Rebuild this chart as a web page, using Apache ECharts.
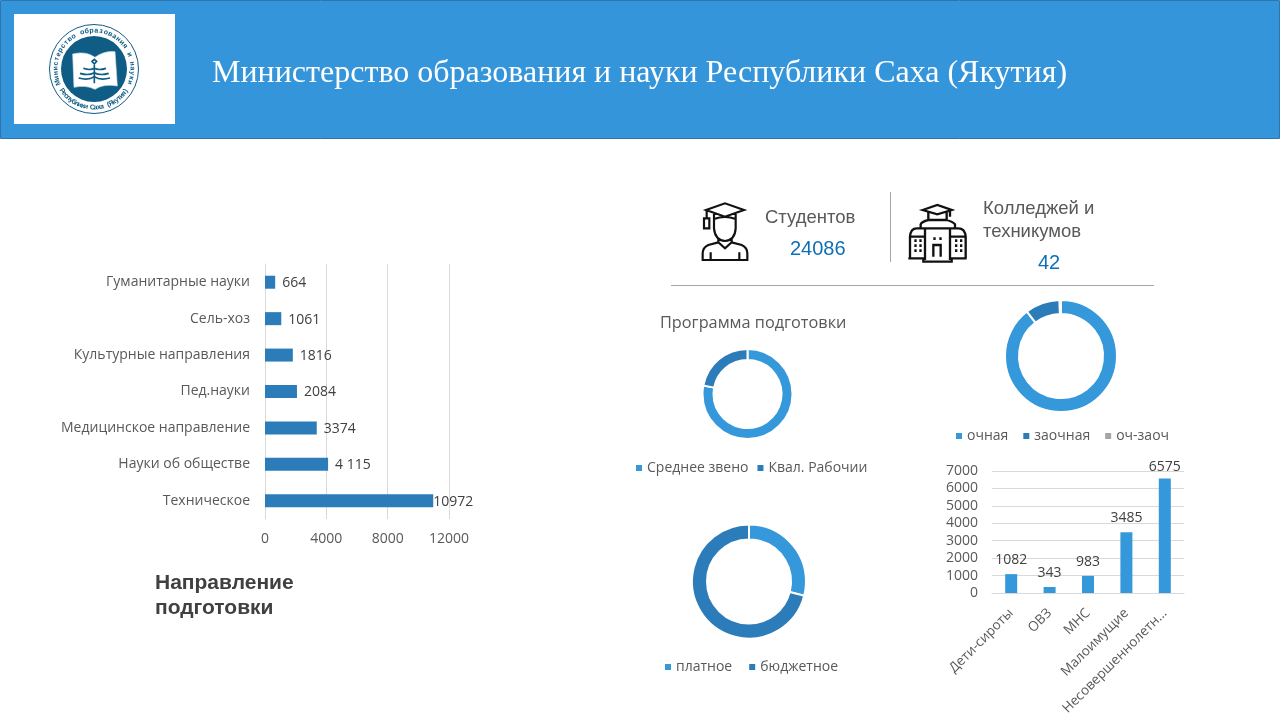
<!DOCTYPE html>
<html>
<head>
<meta charset="utf-8">
<style>html,body{margin:0;padding:0;background:#fff}#c{width:1280px;height:720px}</style>
<script src="https://cdn.jsdelivr.net/npm/echarts@6/dist/echarts.min.js"></script>
</head>
<body>
<div id="c"></div>
<script>
const headerTitle = 'Министерство образования и науки Республики Саха (Якутия)';
const directionCategories = ['Гуманитарные науки','Сель-хоз','Культурные направления','Пед.науки','Медицинское направление','Науки об обществе','Техническое'];
const directionValues = [664,1061,1816,2084,3374,4115,10972];
const directionLabels = ['664','1061','1816','2084','3374','4 115','10972'];
const programNames = ['Среднее звено','Квал. Рабочии'];
const programValues = [78,22];
const formNames = ['очная','заочная','оч-заоч'];
const formValues = [89.6,10,0.4];
const payNames = ['платное','бюджетное'];
const payValues = [29,71];
const socialCategories = ['Дети-сироты','ОВЗ','МНС','Малоимущие','Несовершеннолетн…'];
const socialValues = [1082,343,983,3485,6575];

const LIGHT='#3498db', DARK='#2b7cb9', GREY='#a5a5a5', TXT='#595959', FONT='"Open Sans"';
const chart = echarts.init(document.getElementById('c'), null, {renderer:'canvas'});

function donut(names, values, colors, center, r0, r1){
  return {type:'pie', center:center, radius:[r0,r1], startAngle:90, clockwise:true, silent:true, animation:false,
    label:{show:false}, labelLine:{show:false},
    itemStyle:{borderColor:'#fff',borderWidth:2},
    data:names.map((n,i)=>({name:n,value:values[i],itemStyle:{color:colors[i]}}))};
}
function legend(names,left,top,gap){
  return {data:names,left:left,top:top,itemWidth:8,itemHeight:8,itemGap:gap,icon:'rect',orient:'horizontal',padding:0,
    selectedMode:false,textStyle:{fontFamily:FONT,fontSize:14,color:TXT,padding:[0,0,0,-1]}};
}

/* Decorative shapes */
const g = [];
g.push({type:'rect',shape:{x:0.5,y:0.5,width:1279,height:138},style:{fill:'#3595db',stroke:'#2e75b0',lineWidth:1},silent:true});
g.push({type:'rect',shape:{x:14,y:14,width:161,height:110},style:{fill:'#fff'},silent:true});
g.push({type:'text',x:212,y:74,style:{text:headerTitle,fill:'#fff',font:'32px "Liberation Serif"',verticalAlign:'middle'},silent:true});
// logo
const NAVY='#0f5c85', LC=[94,69];
g.push({type:'circle',shape:{cx:LC[0],cy:LC[1],r:44.5},style:{fill:'#fff',stroke:NAVY,lineWidth:1},silent:true});
g.push({type:'circle',shape:{cx:LC[0],cy:LC[1],r:33},style:{fill:NAVY},silent:true});
function arcText(str,r,startDeg,endDeg,bottom){
  const chars=[...str], n=chars.length;
  chars.forEach((ch,i)=>{
    const deg=startDeg+(endDeg-startDeg)*(i+0.5)/n, a=deg*Math.PI/180;
    const x=LC[0]+r*Math.sin(a), y=LC[1]-r*Math.cos(a);
    g.push({type:'text',x:x,y:y,rotation:bottom?-(deg-180)*Math.PI/180:-a,
      style:{text:ch,fill:NAVY,font:'bold 7px "Liberation Sans"',align:'center',verticalAlign:'middle'},silent:true});
  });
}
arcText('Министерство образования и науки',38.5,-114,114,false);
arcText('Республики Саха (Якутия)',38.5,238,122,true);
function txt(s,x,y,size,color,font){
  g.push({type:'text',x:x,y:y,style:{text:s,fill:color,font:size+'px '+(font||'"Liberation Sans"'),verticalAlign:'middle'},silent:true});
}
txt('Студентов',765,218,18.5,TXT);
txt('24086',790,249,20,'#0f6fb5');
txt('Колледжей и',983,209,18.5,TXT);
txt('техникумов',983,232,18.5,TXT);
txt('42',1038,263,20,'#0f6fb5');
g.push({type:'line',shape:{x1:890.5,y1:192,x2:890.5,y2:262},style:{stroke:'#a6a6a6',lineWidth:1},silent:true});
g.push({type:'line',shape:{x1:671,y1:285.5,x2:1154,y2:285.5},style:{stroke:'#a6a6a6',lineWidth:1},silent:true});

/* Icon outlines, drawn in 3x space */
function iconPath(x,y,d,style){
  return {type:'path',x:x,y:y,scaleX:1/3,scaleY:1/3,shape:{pathData:d},style:style};
}
function renderIcons(){
  return {type:'group',children:[
    iconPath(0,0,'M218,162 Q258,152 285,172 Q312,152 345,155 L352,258 Q312,250 285,268 Q258,254 222,262 Z',{fill:'#fff',stroke:'#cfe0ea',lineWidth:2}),
    iconPath(0,0,'M283,190 V250 M250,205 Q270,212 283,205 Q296,212 318,205 M240,220 Q265,228 283,218 Q300,228 326,220 M236,234 Q265,242 283,230 Q300,242 330,234 M276,184 L283,192 L290,184 L283,178 Z',{fill:'none',stroke:NAVY,lineWidth:5}),
    iconPath(690,195,'M48,45 L105,25 L162,45 L105,65 Z M72,55 V72 Q105,60 137,72 V55 M50,48 V68 M42,70 H58 V100 H42 Z M72,72 V100 Q75,135 105,138 Q135,135 137,100 V72 M85,130 V142 L105,160 L125,142 V130 M85,142 L55,150 Q38,158 38,175 V195 H172 V175 Q172,158 155,150 L125,142 M62,172 V195 M148,172 V195',{fill:'none',stroke:'#111',lineWidth:6.5}),
    iconPath(900,195,'M68,45 L112,30 L155,45 L112,58 Z M85,52 V75 H140 V52 M150,48 V65 M62,88 Q65,80 85,75 H140 Q158,80 165,88 V100 H62 Z M75,100 V195 M150,100 V195 M75,100 H50 Q32,100 30,125 H75 M150,100 H175 Q195,100 197,125 H150 M30,125 V190 M197,125 V190 M25,190 H70 V200 H155 V190 H200 M100,185 V150 H122 V185',{fill:'none',stroke:'#111',lineWidth:7}),
    iconPath(900,195,'M43,133h7v8h-7z M58,133h7v8h-7z M43,148h7v8h-7z M58,148h7v8h-7z M43,163h7v8h-7z M58,163h7v8h-7z M165,133h7v8h-7z M180,133h7v8h-7z M165,148h7v8h-7z M180,148h7v8h-7z M165,163h7v8h-7z M180,163h7v8h-7z M100,127h7v8h-7z M118,127h7v8h-7z',{fill:'#111'})
  ]};
}
const plain = v => String(v);

const option = {
  animation:false,
  backgroundColor:'#fff',
  graphic:{elements:g},
  title:[
    {text:'Направление\nподготовки',left:155,top:571,padding:0,textStyle:{fontFamily:'"Liberation Sans"',fontWeight:'bold',fontSize:21,lineHeight:25,color:'#404040'}},
    {text:'Программа подготовки',left:660,top:313,padding:0,textStyle:{fontFamily:FONT,fontWeight:'normal',fontSize:16.3,lineHeight:20,color:TXT}}
  ],
  legend:[
    legend(programNames,634,461,7),
    legend(formNames,954,429,13),
    legend(payNames,663,660,15)
  ],
  grid:[
    {left:265,top:264,width:184,height:255,containLabel:false},
    {left:992,top:471,width:192,height:122,containLabel:false}
  ],
  xAxis:[
    {gridIndex:0,type:'value',min:0,max:12000,interval:4000,
      axisLine:{show:false},axisTick:{show:false},
      axisLabel:{fontFamily:FONT,fontSize:14,color:TXT,margin:13,formatter:plain},
      splitLine:{show:true,lineStyle:{color:'#d9d9d9',width:1}}},
    {gridIndex:1,type:'category',data:socialCategories,
      axisLine:{show:true,lineStyle:{color:'#d9d9d9'}},axisTick:{show:false},
      axisLabel:{fontFamily:FONT,fontSize:13.5,color:TXT,rotate:45,margin:18,interval:0}}
  ],
  yAxis:[
    {gridIndex:0,type:'category',inverse:true,data:directionCategories,
      axisLine:{show:true,lineStyle:{color:'#d9d9d9'}},axisTick:{show:false},
      axisLabel:{fontFamily:FONT,fontSize:14,color:TXT,margin:15,interval:0}},
    {gridIndex:1,type:'value',min:0,max:7000,interval:1000,
      axisLine:{show:false},axisTick:{show:false},
      axisLabel:{fontFamily:FONT,fontSize:14,color:TXT,margin:14,formatter:plain},
      splitLine:{show:true,lineStyle:{color:'#d9d9d9',width:1}}}
  ],
  series:[
    {type:'bar',xAxisIndex:0,yAxisIndex:0,barWidth:13,silent:true,
      data:directionValues.map((v,i)=>({value:v,itemStyle:{color:DARK},
        label:{show:true,position:'right',distance:v>10000?0:7,offset:[0,1],formatter:directionLabels[i],fontFamily:FONT,fontSize:14,color:'#404040'}}))},
    {type:'bar',xAxisIndex:1,yAxisIndex:1,barWidth:12,silent:true,
      itemStyle:{color:LIGHT},
      data:socialValues.map(v=>({value:v,label:{show:true,position:'top',distance:v>6000?4:7,fontFamily:FONT,fontSize:14,color:'#404040'}}))},
    donut(programNames,programValues,[LIGHT,DARK],[747.5,394],34,45),
    donut(formNames,formValues,[LIGHT,DARK,GREY],[1061,356],42,56),
    donut(payNames,payValues,[LIGHT,DARK],[749,581.5],42,57),
    {type:'custom',coordinateSystem:'none',silent:true,z:10,data:[0],renderItem:renderIcons}
  ]
};
chart.setOption(option);
</script>
</body>
</html>
